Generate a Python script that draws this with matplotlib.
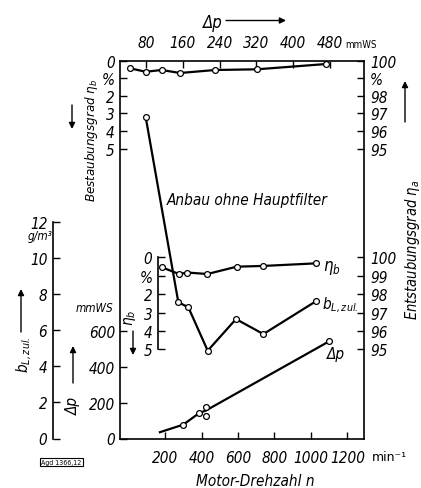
import matplotlib
matplotlib.use("Agg")
import matplotlib.pyplot as plt

plt.rcParams['font.family'] = ['DejaVu Sans']
plt.rcParams['font.style'] = 'italic'
plt.rcParams['font.stretch'] = 'condensed'
plt.rcParams['font.size'] = 11

# ---------------- data ----------------
# b_L,zul (g/m^3) vs motor speed n (1/min)
bl_n = [94, 273, 328, 434, 589, 739, 1026]
bl_val = [17.8, 7.54, 7.26, 4.86, 6.61, 5.78, 7.59]

# inner eta_b (%) vs n
eb_n = [182, 277, 323, 432, 593, 739, 1026]
eb_val = [0.53, 0.90, 0.82, 0.90, 0.50, 0.46, 0.32]

# pressure drop dp (mmWS) vs n : drawn line and measured points
dp_line_n = [172, 300, 388, 423, 1100]
dp_line_val = [35, 77, 142, 155, 541]
dp_meas_n = [300, 388, 423, 423, 1100]
dp_meas_val = [77, 142, 127, 174, 541]

# top eta_b (%) vs dp (mmWS)
ebt_dp = [45, 79, 114, 154, 230, 321, 471]
ebt_val = [0.43, 0.63, 0.53, 0.70, 0.53, 0.49, 0.19]

n_ticks = [200, 400, 600, 800, 1000, 1200]
dp_top_ticks = [80, 160, 240, 320, 400, 480]
bl_ticks = [0, 2, 4, 6, 8, 10, 12]
dp_left_ticks = [0, 200, 400, 600]
eta_ticks = [0, 1, 2, 3, 4, 5]
eta_b_labels = ['0', '%', '2', '3', '4', '5']
eta_a_labels_top = ['100', '%', '98', '97', '96', '95']
eta_a_labels_in = ['100', '99', '98', '97', '96', '95']

# ---------------- layout ----------------
W, H = 421, 489
fig = plt.figure(figsize=(W / 100, H / 100), dpi=100)
rect = [120 / W, 1 - 439.5 / H, 243.5 / W, 377.8 / H]

counter = [0]
def overlay():
    counter[0] += 1
    ax = fig.add_axes(rect, facecolor='none', label='ax%d' % counter[0])
    for s in ax.spines.values():
        s.set_visible(False)
        s.set_linewidth(1.2)
    ax.tick_params(which='both', left=False, right=False, top=False, bottom=False,
                   labelleft=False, labelright=False, labeltop=False, labelbottom=False,
                   direction='in', length=5, width=1.0)
    return ax

NLIM = (-46.6, 1287.7)
line_kw = dict(color='black', lw=1.6, marker='o', ms=4.2, mfc='white', mec='black', mew=0.9)

# b_L axis (offset left) + bottom axis
ax_bl = overlay()
ax_bl.set_xlim(*NLIM)
ax_bl.set_ylim(0, 20.91)
ax_bl.spines['bottom'].set_visible(True)
ax_bl.spines['right'].set_visible(True)
ax_bl.spines['left'].set_visible(True)
ax_bl.spines['left'].set_position(('outward', 48))
ax_bl.spines['left'].set_bounds(0, 12)
ax_bl.set_xticks(n_ticks)
ax_bl.set_xticklabels([str(v) for v in n_ticks])
ax_bl.tick_params(axis='x', bottom=True, labelbottom=True, pad=8)
ax_bl.set_yticks(bl_ticks)
ax_bl.set_yticklabels([str(v) for v in bl_ticks])
ax_bl.tick_params(axis='y', left=True, labelleft=True, pad=4.3)
ax_bl.plot(bl_n, bl_val, **line_kw)

# dp axis on main left spine
ax_dp = overlay()
ax_dp.set_xlim(*NLIM)
ax_dp.set_ylim(0, 2102)
ax_dp.spines['left'].set_visible(True)
ax_dp.set_yticks(dp_left_ticks)
ax_dp.set_yticklabels([str(v) for v in dp_left_ticks])
ax_dp.tick_params(axis='y', left=True, labelleft=True, pad=3.6)
ax_dp.plot(dp_line_n, dp_line_val, color='black', lw=1.6)
ax_dp.plot(dp_meas_n, dp_meas_val, ls='none', marker='o', ms=4.2, mfc='white', mec='black', mew=0.9)

# inner eta_b axis
ax_ebi = overlay()
ax_ebi.set_xlim(*NLIM)
ax_ebi.set_ylim(9.86, -10.72)
ax_ebi.spines['left'].set_visible(True)
ax_ebi.spines['left'].set_position(('axes', (158.3 - 120) / 243.5))
ax_ebi.spines['left'].set_bounds(0, 5)
ax_ebi.set_yticks(eta_ticks)
ax_ebi.set_yticklabels(eta_b_labels)
ax_ebi.tick_params(axis='y', left=True, labelleft=True, pad=4.3)
ax_ebi.plot(eb_n, eb_val, **line_kw)

# inner eta_a (right)
ax_eai = overlay()
ax_eai.set_ylim(9.86, -10.72)
ax_eai.set_yticks(eta_ticks)
ax_eai.set_yticklabels(eta_a_labels_in)
ax_eai.tick_params(axis='y', right=True, labelright=True, pad=4.8)

# top eta_b vs dp
ax_top = overlay()
ax_top.set_xlim(23.5, 552.8)
ax_top.set_ylim(21.51, 0)
ax_top.spines['top'].set_visible(True)
ax_top.set_xticks(dp_top_ticks)
ax_top.set_xticklabels([str(v) for v in dp_top_ticks])
ax_top.tick_params(axis='x', top=True, labeltop=True, pad=7.5)
ax_top.set_yticks(eta_ticks)
ax_top.set_yticklabels(eta_b_labels)
ax_top.tick_params(axis='y', left=True, labelleft=True, pad=3.8)
ax_top.plot(ebt_dp, ebt_val, **line_kw)

# top eta_a (right)
ax_eao = overlay()
ax_eao.set_ylim(21.51, 0)
ax_eao.set_yticks(eta_ticks)
ax_eao.set_yticklabels(eta_a_labels_top)
ax_eao.tick_params(axis='y', right=True, labelright=True, pad=4.8)

# ---------------- texts ----------------
def ftext(x, y, s, **kw):
    fig.text(x / W, 1 - y / H, s, **kw)

def farrow(x1, y1, x2, y2):
    # arrow from (x1,y1) to head at (x2,y2), pixel coords from top-left
    ax_bl.annotate('', xy=(x2, H - y2), xytext=(x1, H - y1), xycoords='figure pixels',
                   textcoords='figure pixels',
                   arrowprops=dict(arrowstyle='-|>', lw=1.0, color='black', mutation_scale=9,
                                   shrinkA=0, shrinkB=0))

ftext(213, 23, 'Δp', ha='center', va='center', fontsize=12)
farrow(226, 21.5, 286, 21.5)
ftext(345, 45, 'mmWS', ha='left', va='center', fontsize=7, style='normal')

ftext(91, 140, 'Bestaubungsgrad $\\eta_b$', ha='center', va='center', rotation=90, fontsize=9.5)
farrow(72, 106, 72, 130)

ftext(412, 250, 'Entstaubungsgrad $\\eta_a$', ha='center', va='center', rotation=90, fontsize=10.5)
farrow(405, 123, 405, 82)

ftext(247.5, 201, 'Anbau ohne Hauptfilter', ha='center', va='center', fontsize=11)

ftext(323, 268, '$\\eta_b$', ha='left', va='center', fontsize=12)
ftext(322, 305, '$b_{L,zul.}$', ha='left', va='center', fontsize=11)
ftext(327, 354, 'Δp', ha='left', va='center', fontsize=11)

ftext(130, 318, '$\\eta_b$', ha='center', va='center', rotation=90, fontsize=11)
farrow(133, 332, 133, 356)

ftext(113, 309, 'mmWS', ha='right', va='center', fontsize=8.5)
ftext(40, 237, 'g/m³', ha='center', va='center', fontsize=8.5)

ftext(24, 355, '$b_{L,zul.}$', ha='center', va='center', rotation=90, fontsize=11)
farrow(21, 333, 21, 290)

ftext(73, 406, 'Δp', ha='center', va='center', rotation=90, fontsize=11)
farrow(73, 384, 73, 347)

ftext(372, 458, 'min⁻¹', ha='left', va='center', fontsize=9, style='normal', stretch='normal')
ftext(255, 482, 'Motor-Drehzahl n', ha='center', va='center', fontsize=11)

ftext(61.5, 463, 'Agd 1366,12', ha='center', va='center', fontsize=5, style='normal',
      bbox=dict(boxstyle='square,pad=0.15', fc='white', ec='black', lw=0.8))

fig.savefig('out.png', dpi=100)
